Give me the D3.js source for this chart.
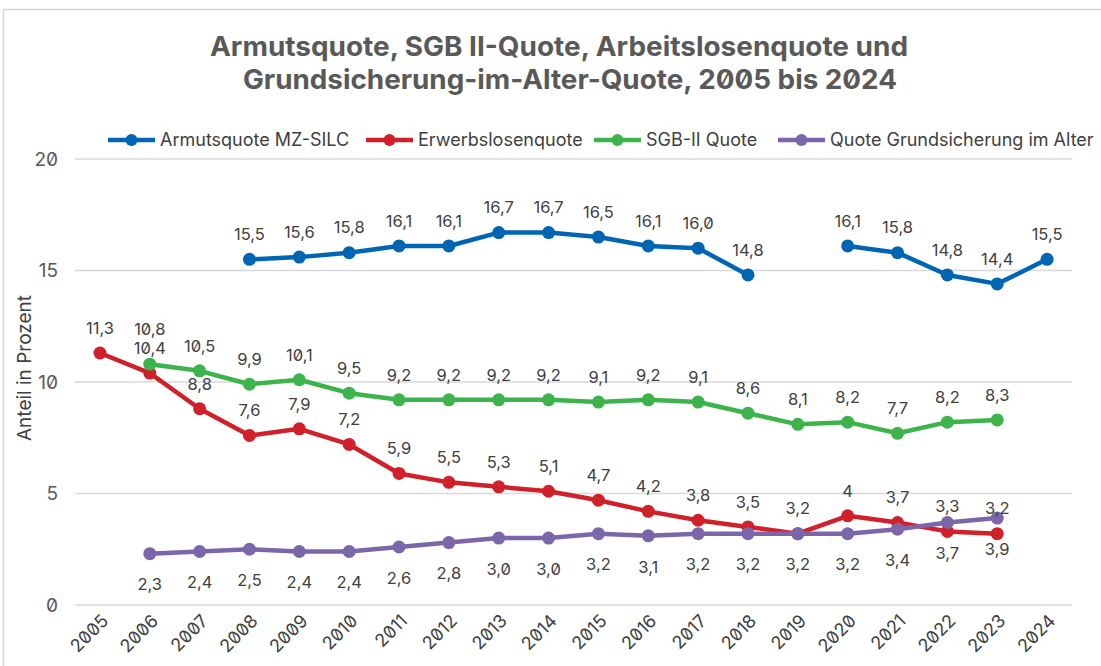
<!DOCTYPE html>
<html>
<head>
<meta charset="utf-8">
<script src="https://cdn.jsdelivr.net/npm/d3@7"></script>
<style>
    body { margin: 0; background: #fff; }
    svg text { font-family: Inter, "Noto Sans", sans-serif; font-feature-settings: "zero" 1; }
</style>
</head>
<body>
<svg id="chart" width="1101" height="666"></svg>
<script>
// years on the x axis
var years = ["2005", "2006", "2007", "2008", "2009", "2010", "2011", "2012", "2013", "2014",
    "2015", "2016", "2017", "2018", "2019", "2020", "2021", "2022", "2023", "2024"]

var armut = [null, null, null, 15.5, 15.6, 15.8, 16.1, 16.1, 16.7, 16.7,
    16.5, 16.1, 16.0, 14.8, null, 16.1, 15.8, 14.8, 14.4, 15.5]
var erwerbslos = [11.3, 10.4, 8.8, 7.6, 7.9, 7.2, 5.9, 5.5, 5.3, 5.1,
    4.7, 4.2, 3.8, 3.5, 3.2, 4, 3.7, 3.3, 3.2, null]
var sgb2 = [null, 10.8, 10.5, 9.9, 10.1, 9.5, 9.2, 9.2, 9.2, 9.2,
    9.1, 9.2, 9.1, 8.6, 8.1, 8.2, 7.7, 8.2, 8.3, null]
var grundsicherung = [null, 2.3, 2.4, 2.5, 2.4, 2.4, 2.6, 2.8, 3.0, 3.0,
    3.2, 3.1, 3.2, 3.2, 3.2, 3.2, 3.4, 3.7, 3.9, null]

var yTicks = [0, 5, 10, 15, 20]
var legendNames = ["Armutsquote MZ-SILC", "Erwerbslosenquote", "SGB-II Quote", "Quote Grundsicherung im Alter"]
var titleLines = ["Armutsquote, SGB II-Quote, Arbeitslosenquote und", "Grundsicherung-im-Alter-Quote, 2005 bis 2024"]

var oneDec = function (v) { return d3.format(".1f")(v).replace(".", ",") }
var plain = function (v) { return String(v).replace(".", ",") }

var series = [
    { name: legendNames[0], values: armut, color: "#0066b3", below: false, fmt: oneDec },
    { name: legendNames[1], values: erwerbslos, color: "#d0202a", below: false, fmt: plain },
    { name: legendNames[2], values: sgb2, color: "#3cb44b", below: false, fmt: oneDec },
    { name: legendNames[3], values: grundsicherung, color: "#7b66aa", below: true, fmt: oneDec }
]

var svg = d3.select("#chart")

// outer frame
svg.append("rect")
    .attr("x", 3.5).attr("y", 9.5)
    .attr("width", 1200).attr("height", 700)
    .attr("fill", "#fff").attr("stroke", "#d9d9d9").attr("stroke-width", 1.5)

var x = d3.scalePoint().domain(years).range([75, 1072]).padding(0.5)
var y = d3.scaleLinear().domain([0, 20]).range([605, 159])

// title
var titleW = [698, 654]
svg.append("g").selectAll("text")
    .data(titleLines)
    .join("text")
    .attr("x", (d, i) => i == 0 ? 559 : 570)
    .attr("y", (d, i) => 56 + i * 33)
    .attr("text-anchor", "middle")
    .attr("font-size", 27)
    .attr("font-weight", 700)
    .attr("fill", "#595959")
    .attr("textLength", (d, i) => titleW[i])
    .attr("lengthAdjust", "spacingAndGlyphs")
    .text(d => d)

// gridlines
svg.append("g").selectAll("line")
    .data(yTicks)
    .join("line")
    .attr("x1", 75).attr("x2", 1072)
    .attr("y1", d => y(d)).attr("y2", d => y(d))
    .attr("stroke", "#d9d9d9").attr("stroke-width", 1.5)

// y axis labels
var yAxis = svg.append("g")
    .attr("transform", "translate(58,0)")
    .call(d3.axisLeft(y).tickValues(yTicks).tickSize(0).tickPadding(0))
yAxis.select(".domain").remove()
yAxis.selectAll("text")
    .attr("font-size", 19)
    .attr("fill", "#595959")

// x axis labels
var xAxis = svg.append("g")
    .attr("transform", "translate(0,605)")
    .call(d3.axisBottom(x).tickSize(0))
xAxis.select(".domain").remove()
xAxis.selectAll("text")
    .attr("font-size", 18)
    .attr("fill", "#404040")
    .attr("text-anchor", "end")
    .attr("dy", 0)
    .attr("y", 0)
    .attr("transform", "translate(9,17) rotate(-45)")

// y axis title
svg.append("text")
    .attr("transform", "translate(31,368) rotate(-90)")
    .attr("text-anchor", "middle")
    .attr("font-size", 19)
    .attr("fill", "#404040")
    .text("Anteil in Prozent")

// lines and markers
var line = d3.line()
    .defined(d => d.v != null)
    .x(d => x(d.year))
    .y(d => y(d.v))

series.forEach(function (s) {
    var pts = years.map((yr, i) => ({ year: yr, v: s.values[i] }))
    var g = svg.append("g")
    g.append("path")
        .datum(pts)
        .attr("d", line)
        .attr("fill", "none")
        .attr("stroke", s.color)
        .attr("stroke-width", 4.5)
        .attr("stroke-linejoin", "round")
    g.selectAll("circle")
        .data(pts.filter(d => d.v != null))
        .join("circle")
        .attr("cx", d => x(d.year))
        .attr("cy", d => y(d.v))
        .attr("r", 6.5)
        .attr("fill", s.color)
})

// data labels: collect, then push apart labels of one year that collide
var labels = []
series.forEach(function (s) {
    years.forEach(function (yr, i) {
        var v = s.values[i]
        if (v == null) return
        labels.push({ year: yr, text: s.fmt(v), ly: y(v) + (s.below ? 31 : -25) })
    })
})
var gap = 19
d3.groups(labels, d => d.year).forEach(function (grp) {
    var list = grp[1].sort((a, b) => b.ly - a.ly)
    for (var k = 1; k < list.length; k++) {
        if (list[k - 1].ly - list[k].ly < gap) list[k].ly = list[k - 1].ly - gap
    }
})
svg.append("g").selectAll("text")
    .data(labels)
    .join("text")
    .attr("x", d => x(d.year))
    .attr("y", d => d.ly)
    .attr("dy", "0.35em")
    .attr("text-anchor", "middle")
    .attr("font-size", 16.5)
    .attr("fill", "#404040")
    .text(d => d.text)

// legend
var legendX = [108, 366, 594, 778]
var legend = svg.append("g")
    .selectAll("g")
    .data(series)
    .join("g")
    .attr("transform", (d, i) => "translate(" + legendX[i] + ",140)")
legend.append("line")
    .attr("x1", 0).attr("x2", 47)
    .attr("stroke", d => d.color).attr("stroke-width", 4.5)
legend.append("circle")
    .attr("cx", 23.5).attr("r", 6)
    .attr("fill", d => d.color)
legend.append("text")
    .attr("x", 52)
    .attr("dy", "0.35em")
    .attr("font-size", 18)
    .attr("fill", "#404040")
    .text(d => d.name)
</script>
</body>
</html>
